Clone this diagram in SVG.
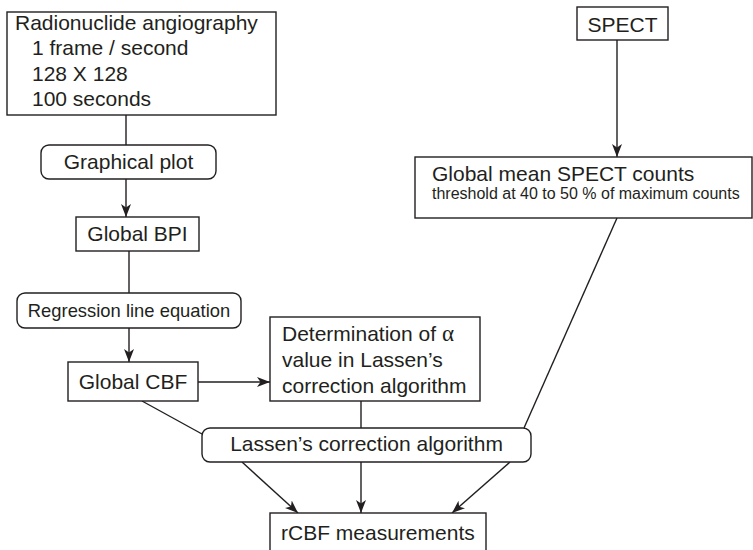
<svg xmlns="http://www.w3.org/2000/svg" width="753" height="550" viewBox="0 0 753 550">
<defs>
<marker id="arr" viewBox="-13 -6 14 12" refX="0" refY="0" markerWidth="14" markerHeight="12" markerUnits="userSpaceOnUse" orient="auto">
<path d="M0,0 L-13,-5 L-9.5,0 L-13,5 Z" fill="#231f20"/>
</marker>
<style>
.b{fill:#fff;stroke:#231f20;stroke-width:1.4}
.t{font-family:"Liberation Sans",Arial,sans-serif;font-size:21px;fill:#231f20}
.s{font-size:16px}
.m{font-size:18.4px}
.c{text-anchor:middle}
.l{fill:none;stroke:#231f20;stroke-width:1.4}
.a{fill:none;stroke:#231f20;stroke-width:1.4;marker-end:url(#arr)}
</style>
</defs>
<rect width="753" height="550" fill="#fff"/>
<g id="connectors">
<line class="l" x1="126" y1="115" x2="126" y2="145"/>
<line class="a" x1="126" y1="179" x2="126" y2="217"/>
<line class="l" x1="129" y1="251" x2="129" y2="293"/>
<line class="a" x1="129" y1="328" x2="129" y2="362"/>
<line class="a" x1="198" y1="382" x2="270" y2="382"/>
<line class="l" x1="361" y1="401" x2="361" y2="428"/>
<line class="l" x1="142" y1="401" x2="202" y2="434"/>
<line class="a" x1="617" y1="40" x2="617" y2="157"/>
<line class="l" x1="617" y1="218" x2="524" y2="428"/>
<line class="a" x1="242" y1="462" x2="298" y2="513"/>
<line class="a" x1="361" y1="462" x2="361" y2="513"/>
<line class="a" x1="510" y1="462" x2="452" y2="513"/>
</g>
<g id="radionuclide">
<rect class="b" x="7" y="12" width="269" height="103"/>
<text class="t" x="15" y="30">Radionuclide angiography</text>
<text class="t" x="32" y="55">1 frame / second</text>
<text class="t" x="32" y="81">128 X 128</text>
<text class="t" x="32" y="106">100 seconds</text>
</g>
<g id="graphical-plot">
<rect class="b" x="41" y="145" width="175" height="34" rx="8"/>
<text class="t c" x="128.5" y="169">Graphical plot</text>
</g>
<g id="global-bpi">
<rect class="b" x="76" y="217" width="123" height="34"/>
<text class="t c" x="137.5" y="241">Global BPI</text>
</g>
<g id="regression">
<rect class="b" x="17" y="293" width="224" height="35" rx="8"/>
<text class="t m c" x="129" y="317">Regression line equation</text>
</g>
<g id="global-cbf">
<rect class="b" x="68" y="362" width="130" height="39"/>
<text class="t c" x="133" y="389">Global CBF</text>
</g>
<g id="determination">
<rect class="b" x="270" y="317" width="210" height="84"/>
<text class="t" x="282" y="341">Determination of <tspan font-family="'Liberation Serif','Times New Roman',serif" font-size="23">α</tspan></text>
<text class="t" x="282" y="367">value in Lassen’s</text>
<text class="t" x="282" y="393">correction algorithm</text>
</g>
<g id="lassen">
<rect class="b" x="202" y="428" width="329" height="34" rx="8"/>
<text class="t c" x="366.5" y="451">Lassen’s correction algorithm</text>
</g>
<g id="spect">
<rect class="b" x="577" y="7" width="91" height="33"/>
<text class="t c" x="622.5" y="32">SPECT</text>
</g>
<g id="global-mean">
<rect class="b" x="415" y="157" width="337" height="61"/>
<text class="t" x="432" y="181">Global mean SPECT counts</text>
<text class="t s" x="432" y="199">threshold at 40 to 50 % of maximum counts</text>
</g>
<g id="rcbf">
<rect class="b" x="270" y="513" width="216" height="50"/>
<text class="t" x="281" y="540">rCBF measurements</text>
</g>
</svg>
